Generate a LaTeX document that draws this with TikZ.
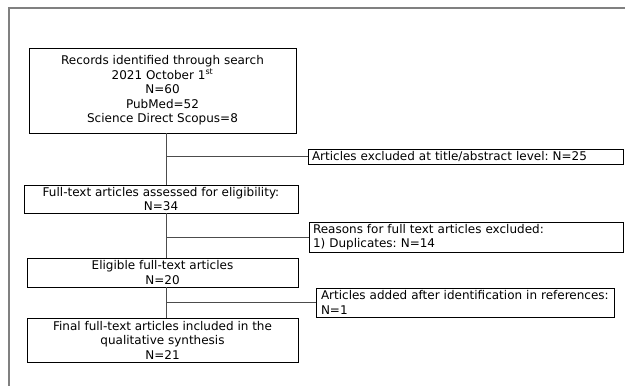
\documentclass[tikz,border=0pt]{standalone}
\usepackage{fontspec}
\setmainfont{DejaVu Sans}
\frenchspacing
\begin{document}
\begin{tikzpicture}[x=1pt,y=-1pt,
  every node/.style={font=\fontsize{12}{14.5}\selectfont},
  box/.style={draw=black, line width=0.8pt, inner sep=0pt, align=center},
  sidebox/.style={draw=black, line width=0.8pt, inner ysep=0pt, inner xsep=4pt, align=left},
  conn/.style={draw=black!70, line width=0.8pt},
  frame/.style={draw=black!50, line width=1.4pt}]
\useasboundingbox (0,0) rectangle (625,386);
\draw[frame] (9,386) -- (9,8) -- (625,8);
\coordinate (t) at (166,0);
\node[box, minimum width=267pt, minimum height=85pt] (b1) at (162.5,90.5)
  {Records identified through search\\2021 October 1\textsuperscript{st}\\N=60\\PubMed=52\\Science Direct Scopus=8};
\node[box, minimum width=274pt, minimum height=28pt] (b2) at (161,199)
  {Full-text articles assessed for eligibility:\\N=34};
\node[box, minimum width=271pt, minimum height=29pt] (b3) at (162.5,272.5)
  {Eligible full-text articles\\N=20};
\node[box, minimum width=271pt, minimum height=44pt] (b4) at (162.5,340)
  {Final full-text articles included in the\\qualitative synthesis\\N=21};
\node[sidebox, text width=307pt, minimum height=15pt] (a1) at (465.5,156.5)
  {\mbox{Articles excluded at title/abstract level: N=25}};
\node[sidebox, text width=306pt, minimum height=30pt] (r) at (466,237)
  {Reasons for full text articles excluded:\\1) Duplicates: N=14};
\node[sidebox, inner xsep=5pt, text width=288pt, minimum height=29pt] (ad) at (465,302.5)
  {\mbox{Articles added after identification in references:}\\N=1};
\draw[conn] (b1.south -| t) -- (b2.north -| t);
\draw[conn] (b2.south -| t) -- (b3.north -| t);
\draw[conn] (b3.south -| t) -- (b4.north -| t);
\draw[conn] (t |- a1.west) -- (a1.west);
\draw[conn] (t |- r.west) -- (r.west);
\draw[conn] (t |- ad.west) -- (ad.west);
\end{tikzpicture}
\end{document}
